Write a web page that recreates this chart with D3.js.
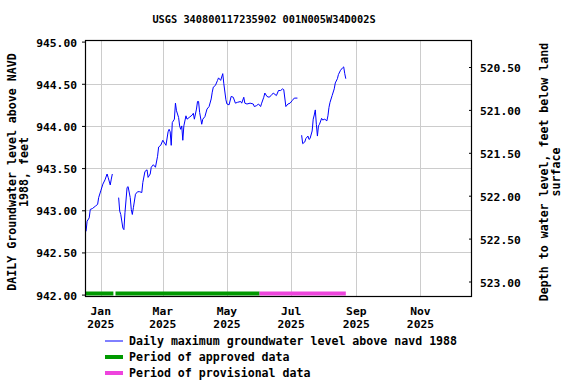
<!DOCTYPE html>
<html>
<head>
<meta charset="utf-8">
<script src="https://cdn.jsdelivr.net/npm/d3@7"></script>
<style>
  body { margin: 0; background: #fff; }
  text { font-family: "DejaVu Sans Mono", monospace; font-weight: bold; fill: #000; }
</style>
</head>
<body>
<script>
// daily maximum groundwater level (ft above NAVD 1988); null = gap
var dates = [
  "2024-12-18","2024-12-19","2024-12-21","2024-12-22","2024-12-24","2024-12-27","2024-12-29","2024-12-30",
  "2025-01-01","2025-01-03","2025-01-05","2025-01-07","2025-01-08","2025-01-10","2025-01-11","2025-01-12",
  "2025-01-14",
  "2025-01-18","2025-01-19","2025-01-20","2025-01-22","2025-01-23","2025-01-24","2025-01-26","2025-01-27",
  "2025-01-29","2025-01-30","2025-01-31","2025-02-01","2025-02-03","2025-02-05","2025-02-07","2025-02-09",
  "2025-02-10","2025-02-12","2025-02-14","2025-02-15","2025-02-17","2025-02-18","2025-02-20","2025-02-22",
  "2025-02-24","2025-02-25","2025-02-27","2025-03-01","2025-03-02","2025-03-04","2025-03-06","2025-03-07",
  "2025-03-08","2025-03-09","2025-03-10","2025-03-12","2025-03-13","2025-03-14","2025-03-16","2025-03-17",
  "2025-03-18","2025-03-19","2025-03-20","2025-03-21","2025-03-23","2025-03-24","2025-03-26","2025-03-29",
  "2025-03-30","2025-03-31","2025-04-02","2025-04-03","2025-04-04","2025-04-05","2025-04-07","2025-04-08",
  "2025-04-10","2025-04-12","2025-04-14","2025-04-16","2025-04-17","2025-04-18","2025-04-20","2025-04-22",
  "2025-04-23","2025-04-25","2025-04-27","2025-04-28","2025-04-30","2025-05-01","2025-05-03","2025-05-05",
  "2025-05-07","2025-05-09","2025-05-11","2025-05-14","2025-05-15","2025-05-17","2025-05-18","2025-05-20",
  "2025-05-23","2025-05-26","2025-05-27","2025-05-29","2025-05-31","2025-06-02","2025-06-03","2025-06-05",
  "2025-06-06","2025-06-08","2025-06-10","2025-06-12","2025-06-14","2025-06-17","2025-06-19","2025-06-21",
  "2025-06-23","2025-06-24","2025-06-26","2025-06-28","2025-06-30","2025-07-02","2025-07-04","2025-07-07",
  "2025-07-09",
  "2025-07-11","2025-07-12","2025-07-14","2025-07-15","2025-07-17","2025-07-18","2025-07-19","2025-07-21",
  "2025-07-22","2025-07-23","2025-07-24","2025-07-25","2025-07-26","2025-07-27","2025-07-28","2025-07-30",
  "2025-07-31","2025-08-02","2025-08-04","2025-08-05","2025-08-06","2025-08-07","2025-08-09","2025-08-11",
  "2025-08-12","2025-08-14","2025-08-15","2025-08-17","2025-08-19","2025-08-20","2025-08-21","2025-08-22"
];
var levels = [
  942.75,942.87,942.91,943.01,943.02,943.05,943.07,943.15,
  943.23,943.31,943.36,943.43,943.39,943.30,943.37,943.43,
  null,
  943.15,942.99,942.95,942.79,942.77,942.97,943.27,943.28,
  943.15,943.01,942.95,943.03,943.19,943.22,943.22,943.21,
  943.33,943.46,943.48,943.39,943.43,943.51,943.54,943.51,
  943.64,943.75,943.77,943.83,943.81,943.77,943.93,943.96,
  943.93,943.77,944.04,944.08,944.27,944.18,944.10,944.00,
  943.96,944.00,943.83,944.00,944.12,944.08,944.10,944.13,
  944.15,944.08,944.20,944.29,944.29,944.16,944.02,944.08,
  944.11,944.20,944.23,944.32,944.40,944.46,944.48,944.54,
  944.57,944.54,944.62,944.50,944.31,944.26,944.25,944.35,
  944.34,944.27,944.28,944.29,944.27,944.34,944.27,944.26,
  944.27,944.26,944.23,944.24,944.26,944.23,944.27,944.34,
  944.39,944.35,944.34,944.36,944.39,944.36,944.42,944.42,
  944.44,944.43,944.23,944.26,944.27,944.30,944.33,944.33,
  null,
  943.89,943.79,943.81,943.85,943.88,943.84,943.85,943.94,
  944.08,944.13,944.19,944.02,943.88,944.00,944.02,944.09,
  944.07,944.08,944.06,944.12,944.22,944.28,944.36,944.44,
  944.51,944.56,944.61,944.66,944.69,944.70,944.62,944.56
];

// data approval periods
var periodStart = ["2024-12-17", "2025-01-15", "2025-06-01"];
var periodEnd   = ["2025-01-13", "2025-06-01", "2025-08-22"];
var periodType  = ["approved", "approved", "provisional"];

var leftTicks  = [942.0, 942.5, 943.0, 943.5, 944.0, 944.5, 945.0];
var rightTicks = [520.5, 521.0, 521.5, 522.0, 522.5, 523.0];
var monthTicks = ["2025-01-01", "2025-03-01", "2025-05-01", "2025-07-01", "2025-09-01", "2025-11-01"];

var titleText = "USGS 340800117235902 001N005W34D002S";
var periodColor = { approved: "#009900", provisional: "#ee44dd" };

var parse = d3.timeParse("%Y-%m-%d");
var W = 576, H = 384;
var L = 85, R = 472, T = 40, B = 296;

var svg = d3.select("body").append("svg")
            .attr("width", W)
            .attr("height", H);

var x = d3.scaleTime()
          .domain([parse("2024-12-17"), parse("2025-12-20")])
          .range([L, R]);
var y = d3.scaleLinear().domain([942, 945]).range([294.6, 41.6]);
var yr = d3.scaleLinear().domain([520.5, 523]).range([67, 281.5]);

// grid
svg.selectAll(".hgrid").data(leftTicks.slice(1, -1)).enter()
   .append("line")
   .attr("x1", L).attr("x2", R)
   .attr("y1", function(d) { return Math.round(y(d)) + 0.5; })
   .attr("y2", function(d) { return Math.round(y(d)) + 0.5; })
   .style("stroke", "#cccccc").style("stroke-width", 1);

svg.selectAll(".vgrid").data(monthTicks).enter()
   .append("line")
   .attr("x1", function(d) { return Math.round(x(parse(d))) + 0.5; })
   .attr("x2", function(d) { return Math.round(x(parse(d))) + 0.5; })
   .attr("y1", T).attr("y2", B)
   .style("stroke", "#cccccc").style("stroke-width", 1);

// approval bars
svg.selectAll(".period").data(periodStart).enter()
   .append("rect")
   .attr("x", function(d) { return x(parse(d)); })
   .attr("width", function(d, i) { return x(parse(periodEnd[i])) - x(parse(d)); })
   .attr("y", B - 4.5).attr("height", 4)
   .style("fill", function(d, i) { return periodColor[periodType[i]]; });

// data line
var series = dates.map(function(d, i) { return { date: parse(d), value: levels[i] }; });
var line = d3.line()
             .defined(function(d) { return d.value !== null; })
             .x(function(d) { return x(d.date); })
             .y(function(d) { return y(d.value); });
svg.append("path")
   .datum(series)
   .attr("d", line)
   .style("fill", "none")
   .style("stroke", "#0000ff")
   .style("stroke-width", 1);

// frame
svg.append("rect")
   .attr("x", L + 0.5).attr("y", T + 0.5)
   .attr("width", R - L - 1).attr("height", B - T)
   .style("fill", "none").style("stroke", "#000").style("stroke-width", 1.2);

// left axis
var yAxis = d3.axisLeft(y).tickValues(leftTicks).tickSize(3).tickPadding(5)
              .tickFormat(d3.format(".2f"));
var gl = svg.append("g").attr("transform", "translate(" + L + ",0)").call(yAxis);
// right axis, ticks inward
var yrAxis = d3.axisRight(yr).tickValues(rightTicks).tickSize(-3).tickPadding(8)
               .tickFormat(d3.format(".2f"));
var gr = svg.append("g").attr("transform", "translate(" + R + ",0)").call(yrAxis);
[gl, gr].forEach(function(g) {
  g.select(".domain").remove();
  g.selectAll("line").style("stroke", "#000");
  g.selectAll("text").style("font-size", "11.3px").attr("dy", "0.4em")
   .style("font-family", "DejaVu Sans Mono").style("font-weight", "bold");
});

// bottom month labels
var xl = svg.selectAll(".xlab").data(monthTicks).enter()
   .append("text")
   .attr("text-anchor", "middle")
   .style("font-size", "11.3px");
xl.append("tspan")
  .attr("x", function(d) { return x(parse(d)); }).attr("y", 315)
  .text(function(d) { return d3.timeFormat("%b")(parse(d)); });
xl.append("tspan")
  .attr("x", function(d) { return x(parse(d)); }).attr("y", 328)
  .text(function(d) { return d3.timeFormat("%Y")(parse(d)); });

// title
svg.append("text")
   .attr("x", 264).attr("y", 23)
   .attr("text-anchor", "middle")
   .style("font-size", "10.3px")
   .text(titleText);

// axis titles
var lt = svg.append("text")
   .attr("transform", "translate(16,172) rotate(-90)")
   .attr("text-anchor", "middle")
   .style("font-size", "11.6px");
lt.append("tspan").attr("x", 0).attr("y", 0).text("DAILY Groundwater level above NAVD");
lt.append("tspan").attr("x", 0).attr("y", 12).text("1988, feet");

var rt = svg.append("text")
   .attr("transform", "translate(548,172) rotate(-90)")
   .attr("text-anchor", "middle")
   .style("font-size", "11.6px");
rt.append("tspan").attr("x", 0).attr("y", 0).text("Depth to water level, feet below land");
rt.append("tspan").attr("x", 0).attr("y", 12).text("surface");

// legend
var legendLabels = ["Daily maximum groundwater level above navd 1988",
                    "Period of approved data", "Period of provisional data"];
var legendColors = ["#0000ff", periodColor.approved, periodColor.provisional];
var legendWidths = [1, 4, 4];
var lg = svg.selectAll(".leg").data(legendLabels).enter()
   .append("g")
   .attr("transform", function(d, i) { return "translate(105," + (341 + i * 16) + ")"; });
lg.append("line")
  .attr("x1", 0).attr("x2", 18).attr("y1", 0).attr("y2", 0)
  .style("stroke", function(d, i) { return legendColors[i]; })
  .style("stroke-width", function(d, i) { return legendWidths[i]; });
lg.append("text")
  .attr("x", 24).attr("y", 4)
  .style("font-size", "11.6px")
  .text(function(d) { return d; });
</script>
</body>
</html>
